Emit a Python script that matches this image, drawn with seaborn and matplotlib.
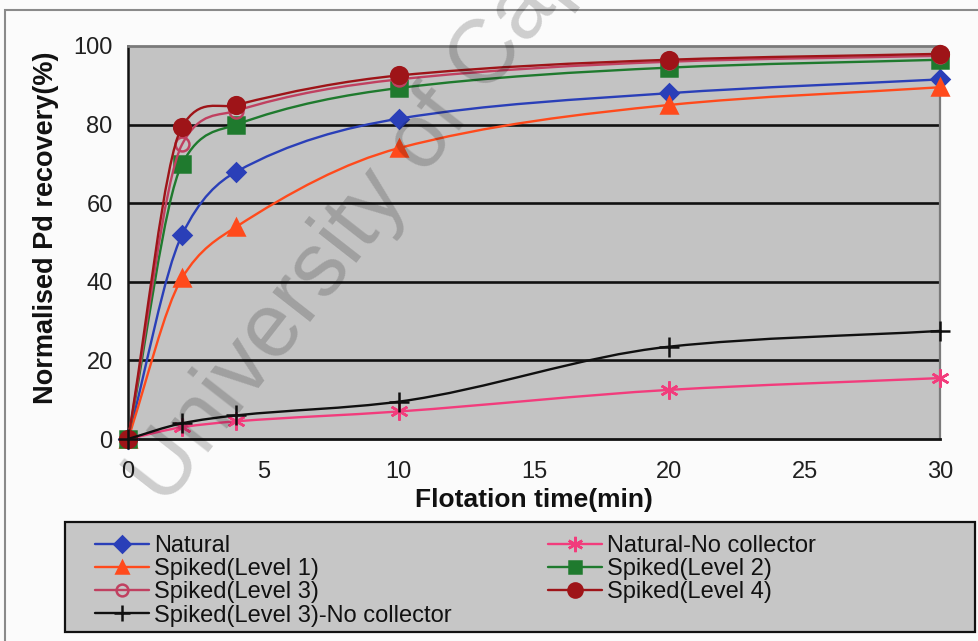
import numpy as np
import pandas as pd
import matplotlib
matplotlib.use("Agg")
import matplotlib.pyplot as plt
import seaborn as sns
from matplotlib.path import Path
from matplotlib.patches import PathPatch, Rectangle
from matplotlib.lines import Line2D

# ---------------- data ----------------
time_min = [0, 2, 4, 10, 20, 30]
natural = [0, 52, 68, 81.5, 88, 91.5]
natural_no_collector = [0, 3, 4.5, 7, 12.5, 15.5]
spiked_level1 = [0, 41, 54, 74, 85, 89.5]
spiked_level2 = [0, 70, 80, 89.3, 94.5, 96.5]
spiked_level3 = [0, 75, 83.5, 91.5, 96, 97.5]
spiked_level4 = [0, 79.5, 85, 92.5, 96.5, 98]
spiked_level3_no_collector = [0, 4, 6, 9.5, 23.5, 27.5]

series_names = ["Natural", "Natural-No collector", "Spiked(Level 1)", "Spiked(Level 2)",
                "Spiked(Level 3)", "Spiked(Level 4)", "Spiked(Level 3)-No collector"]
series_values = [natural, natural_no_collector, spiked_level1, spiked_level2,
                 spiked_level3, spiked_level4, spiked_level3_no_collector]

x_ticks = [0, 5, 10, 15, 20, 25, 30]
y_ticks = [0, 20, 40, 60, 80, 100]

# ---------------- styles ----------------
styles = {
    "Natural": dict(color="#2a3fb8", marker="D", ms=9, mfc="#2a3fb8"),
    "Natural-No collector": dict(color="#f23c7c", marker=(6, 2, 0), ms=13, mfc="#f23c7c"),
    "Spiked(Level 1)": dict(color="#ff4a1c", marker="^", ms=11, mfc="#ff4a1c"),
    "Spiked(Level 2)": dict(color="#1f7a2e", marker="s", ms=11, mfc="#1f7a2e"),
    "Spiked(Level 3)": dict(color="#c04060", marker="o", ms=10, mfc="none"),
    "Spiked(Level 4)": dict(color="#9e1418", marker="o", ms=12, mfc="#9e1418"),
    "Spiked(Level 3)-No collector": dict(color="#101010", marker="+", ms=14, mfc="#101010"),
}

df = pd.DataFrame({"time": np.repeat([time_min], len(series_names), axis=0).ravel(),
                   "value": np.concatenate(series_values),
                   "series": np.repeat(series_names, len(time_min))})

sns.set_theme(style="white")
plt.rcParams["font.family"] = ["Liberation Sans", "DejaVu Sans"]

fig = plt.figure(figsize=(9.79, 6.41), dpi=100)
fig.patch.set_facecolor("#fbfbfb")
W, H = 979, 641
ax = fig.add_axes([128 / W, 1 - 439 / H, (940 - 128) / W, (439 - 46) / H])
ax.set_facecolor("#c3c3c3")


def smooth_path(xs, ys):
    """Cubic Bezier path through the data points (shape-preserving tangents)."""
    x = np.asarray(xs, float)
    y = np.asarray(ys, float)
    n = len(x)
    h = np.diff(x)
    d = np.diff(y) / h
    m = np.zeros(n)
    m[0], m[-1] = d[0], d[-1]
    for k in range(1, n - 1):
        if d[k - 1] * d[k] <= 0:
            m[k] = 0.0
        else:
            w1 = 2 * h[k] + h[k - 1]
            w2 = h[k] + 2 * h[k - 1]
            m_p = (w1 + w2) / (w1 / d[k - 1] + w2 / d[k])
            m_c = (y[k + 1] - y[k - 1]) / (x[k + 1] - x[k - 1])
            m[k] = 0.6 * m_p + 0.4 * m_c
    verts = [(x[0], y[0])]
    codes = [Path.MOVETO]
    for i in range(n - 1):
        c1 = (x[i] + h[i] / 3, y[i] + m[i] * h[i] / 3)
        c2 = (x[i + 1] - h[i] / 3, y[i + 1] - m[i + 1] * h[i] / 3)
        verts += [c1, c2, (x[i + 1], y[i + 1])]
        codes += [Path.CURVE4] * 3
    return Path(verts, codes)


for k, name in enumerate(series_names):
    st = styles[name]
    sub = df[df["series"] == name]
    patch = PathPatch(smooth_path(sub["time"].values, sub["value"].values),
                      facecolor="none", edgecolor=st["color"], lw=1.7,
                      transform=ax.transData, zorder=3 + k)
    ax.add_patch(patch)
    sns.lineplot(data=sub, x="time", y="value", ax=ax, linestyle="none",
                 marker=st["marker"], markersize=st["ms"], color=st["color"],
                 markerfacecolor=st["mfc"], markeredgecolor=st["color"],
                 markeredgewidth=1.8, zorder=3.5 + k, legend=False, clip_on=False)

ax.set_xlim(0, 30)
ax.set_ylim(0, 100)
ax.set_xticks(x_ticks)
ax.set_yticks(y_ticks)
ax.set_xticklabels([str(t) for t in x_ticks])
ax.set_yticklabels([str(t) for t in y_ticks])
for yv in y_ticks[1:-1]:
    ax.axhline(yv, color="#111111", lw=1.9, zorder=1)

ax.spines["left"].set_color("#111111")
ax.spines["left"].set_linewidth(1.8)
ax.spines["bottom"].set_color("#111111")
ax.spines["bottom"].set_linewidth(2.0)
ax.spines["top"].set_color("#7a7a7a")
ax.spines["top"].set_linewidth(2.0)
ax.spines["right"].set_color("#7a7a7a")
ax.spines["right"].set_linewidth(1.6)

ax.tick_params(axis="both", direction="out", length=7, width=1.5, color="#111111",
               labelsize=17, labelcolor="#202020")
ax.tick_params(axis="y", pad=4)
ax.tick_params(axis="x", pad=9)
ax.grid(False)

ax.set_xlabel("Flotation time(min)", fontsize=19, fontweight="bold", color="#111111")
ax.set_ylabel("Normalised Pd recovery(%)", fontsize=19.5, fontweight="bold", color="#111111")
ax.xaxis.set_label_coords(0.5, (439 - 488) / 393)
ax.yaxis.set_label_coords((59 - 128) / 812, (439 - 228) / 393)

# outer chart border
fig.patches.append(Rectangle((5 / W, -0.05), 1.2, 1 - 10 / H + 0.05, transform=fig.transFigure,
                             facecolor="none", edgecolor="#8a8a8a", lw=1.5, zorder=0))
# legend box
fig.patches.append(Rectangle((65 / W, 1 - 632 / H), (975 - 65) / W, (632 - 522) / H,
                             transform=fig.transFigure, facecolor="#c6c6c6",
                             edgecolor="#111111", lw=1.6, zorder=1))


def handle(name):
    st = styles[name]
    return Line2D([], [], color=st["color"], lw=1.7, marker=st["marker"],
                  markersize=st["ms"] * 0.85, markerfacecolor=st["mfc"],
                  markeredgecolor=st["color"], markeredgewidth=1.8)


col1 = ["Natural", "Spiked(Level 1)", "Spiked(Level 3)", "Spiked(Level 3)-No collector"]
col2 = ["Natural-No collector", "Spiked(Level 2)", "Spiked(Level 4)"]
leg_kw = dict(loc="upper left", frameon=False, fontsize=17, labelspacing=0.05,
              handlelength=2.3, handletextpad=0.2, borderpad=0, borderaxespad=0,
              labelcolor="#111111")
l1 = fig.legend([handle(n) for n in col1], col1, bbox_to_anchor=(95 / W, 1 - 535 / H), **leg_kw)
l2 = fig.legend([handle(n) for n in col2], col2, bbox_to_anchor=(548 / W, 1 - 535 / H), **leg_kw)
l1.set_zorder(5)
l2.set_zorder(5)

# watermark
fig.text(165 / W, 1 - 508 / H, "University of Cape Town", fontsize=65, rotation=52,
         rotation_mode="anchor", ha="left", va="baseline", color="#000000", alpha=0.18,
         zorder=20)

fig.savefig("out.png", dpi=100, facecolor=fig.get_facecolor())
